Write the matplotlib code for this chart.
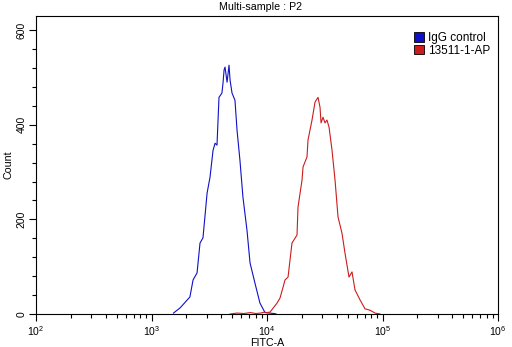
import matplotlib
matplotlib.use("Agg")
import matplotlib.pyplot as plt
from matplotlib.patches import Patch
from matplotlib.ticker import LogLocator, MultipleLocator, FixedLocator, NullFormatter

plt.rcParams['font.family'] = ['Liberation Sans', 'DejaVu Sans']

# FITC-A histogram outlines (FITC-A intensity, event count)
igg_fitc = [1550, 1770, 2150, 2290, 2480, 2630, 2790, 3030, 3210, 3410, 3550,
            3690, 3840, 4070, 4160, 4250, 4330, 4510, 4690, 4790, 4980, 5280,
            5500, 5830, 6190, 6710, 7130, 7870, 8690, 9610, 10500, 11500, 12000]
igg_count = [2, 13, 36, 72, 87, 150, 161, 256, 289, 346, 361,
             357, 458, 467, 488, 516, 522, 490, 526, 494, 467, 452,
             389, 325, 247, 177, 108, 65, 23, 3, 2, 1, 0]

ap_fitc = [4800, 5500, 6300, 7200, 8000, 8800, 9500, 10000, 10620, 12210,
           12970, 14330, 15210, 16450, 18190, 18550, 20090, 20510, 22190,
           22650, 24530, 26050, 27660, 28770, 29370, 30550, 31780, 33050,
           34440, 36560, 38810, 41200, 44560, 47310, 51280, 54430, 57780,
           63830, 70510, 77960, 86100, 95000]
ap_count = [0, 2, 1, 3, 1, 2, 4, 3, 4, 23,
            34, 72, 78, 150, 167, 226, 283, 311, 332,
            368, 410, 448, 458, 437, 404, 416, 404, 410,
            395, 346, 283, 205, 171, 129, 78, 89, 51,
            30, 11, 8, 2, 0]

labels = ['IgG control', '13511-1-AP']
colors = ['#1010c8', '#cc1c1c']

fig = plt.figure(figsize=(5.12, 3.47), dpi=100)
ax = fig.add_axes([0.0703, 0.0951, 0.9024, 0.8588])

ax.plot(igg_fitc, igg_count, color=colors[0], lw=0.8)
ax.plot(ap_fitc, ap_count, color=colors[1], lw=0.8)

ax.set_xscale('log')
ax.set_xlim(1e2, 1e6)
ax.set_ylim(0, 630)

ax.xaxis.set_major_locator(LogLocator(base=10, numticks=10))
ax.xaxis.set_minor_locator(LogLocator(base=10, subs=range(2, 10), numticks=20))
ax.xaxis.set_minor_formatter(NullFormatter())
ax.yaxis.set_major_locator(FixedLocator([0, 200, 400, 600]))
ax.yaxis.set_minor_locator(MultipleLocator(40))

ax.tick_params(which='major', direction='out', length=5, width=0.8, labelsize=7.5, pad=2)
ax.tick_params(which='minor', direction='out', length=3, width=0.8)
for t in ax.get_yticklabels():
    t.set_rotation(90)
    t.set_va('center')

for s in ax.spines.values():
    s.set_linewidth(0.8)

ax.set_title('Multi-sample : P2', fontsize=7.7, pad=4, x=0.485)
ax.set_xlabel('FITC-A', fontsize=7.7, labelpad=0)
ax.set_ylabel('Count', fontsize=7.7, labelpad=2)

handles = [Patch(facecolor=c, edgecolor='black', lw=0.6) for c in colors]
ax.legend(handles, labels, loc='upper right', frameon=False, fontsize=8.5,
          handlelength=0.9, handleheight=0.9, handletextpad=0.3,
          labelspacing=0.05, borderaxespad=0, bbox_to_anchor=(0.993, 0.962))

fig.savefig('out.png', dpi=100)
